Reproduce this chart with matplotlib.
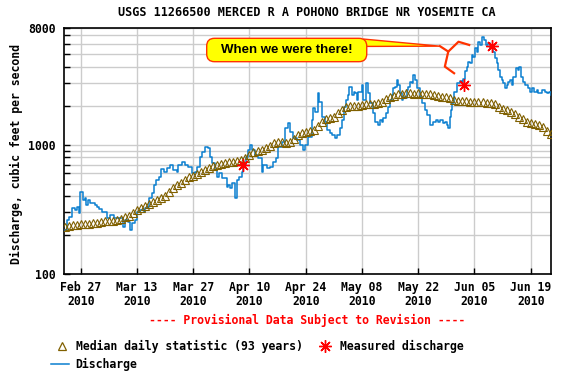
import numpy as np
import matplotlib
matplotlib.use("Agg")
import matplotlib.pyplot as plt
from matplotlib.patches import FancyBboxPatch, Polygon
from matplotlib.lines import Line2D

# ---------------- data ----------------
title = "USGS 11266500 MERCED R A POHONO BRIDGE NR YOSEMITE CA"
ylabel = "Discharge, cubic feet per second"

# x positions are days relative to Feb 27 2010
tick_days = [0, 14, 28, 42, 56, 70, 84, 98, 112]
tick_labels = ["Feb 27\n2010", "Mar 13\n2010", "Mar 27\n2010", "Apr 10\n2010",
               "Apr 24\n2010", "May 08\n2010", "May 22\n2010", "Jun 05\n2010",
               "Jun 19\n2010"]

q_day = [-3.98, -3.53, -2.99, -2.17, -1.34, -0.92, -0.50, -0.10, 0.45, 1.00,
         1.32, 1.82, 2.39, 3.24, 3.63, 4.06, 4.48, 5.30, 6.12, 6.55,
         7.37, 8.21, 9.03, 9.86, 10.45, 11.10, 11.77, 12.34, 12.77, 13.59,
         14.00, 14.83, 15.68, 16.08, 16.75, 17.07, 17.75, 18.17, 18.82, 19.41,
         20.06, 20.66, 21.40, 22.22, 23.05, 23.89, 24.29, 25.14, 25.96, 26.78,
         27.63, 28.45, 28.87, 29.69, 30.11, 30.94, 31.76, 32.18, 32.60, 33.43,
         33.85, 34.50, 35.09, 35.91, 36.34, 36.73, 37.16, 37.58, 38.40, 38.83,
         39.47, 40.07, 40.47, 41.14, 41.71, 42.14, 42.56, 43.38, 44.20, 45.05,
         45.45, 46.29, 47.11, 47.93, 48.53, 49.18, 50.03, 50.85, 51.67, 52.09,
         52.91, 53.76, 54.58, 55.40, 55.82, 56.65, 57.49, 57.89, 58.31, 58.98,
         59.31, 59.98, 60.80, 61.22, 62.05, 62.47, 63.29, 63.71, 64.53, 65.11,
         65.60, 65.95, 66.45, 66.85, 67.45, 68.10, 68.27, 68.69, 69.09, 69.94,
         70.34, 71.00, 71.58, 72.00, 72.82, 73.25, 74.07, 74.49, 74.91, 75.31,
         75.98, 76.56, 76.98, 77.40, 77.80, 78.22, 78.65, 79.04, 79.47, 79.89,
         80.29, 80.71, 81.13, 81.53, 81.96, 82.38, 82.78, 83.20, 83.62, 84.45,
         84.87, 85.69, 86.11, 86.93, 87.36, 87.75, 88.43, 89.00, 89.42, 90.09,
         90.66, 91.09, 91.49, 91.91, 92.16, 92.48, 92.98, 93.58, 93.98, 94.40,
         94.82, 95.22, 95.64, 96.06, 96.46, 96.89, 97.31, 97.71, 98.13, 98.56,
         98.95, 99.38, 99.95, 100.45, 100.80, 101.30, 101.87, 102.69, 103.11, 103.53,
         103.93, 104.36, 104.78, 105.18, 105.60, 106.03, 106.42, 106.85, 107.27, 107.67,
         108.26, 108.76, 109.09, 109.58, 110.16, 110.58, 111.40, 111.82, 112.25, 112.89,
         113.49, 113.89, 114.73, 115.56, 115.98, 116.55, 117.05]
q_cfs = [219, 262, 276, 324, 313, 330, 296, 433, 374, 389,
         342, 374, 355, 355, 342, 330, 320, 302, 302, 271,
         286, 271, 271, 271, 232, 262, 254, 219, 248, 262,
         302, 313, 302, 324, 332, 389, 425, 488, 534, 566,
         646, 618, 665, 697, 638, 618, 697, 740, 697, 675,
         600, 618, 675, 809, 884, 966, 938, 809, 718, 638,
         566, 600, 550, 550, 474, 488, 460, 502, 386, 534,
         566, 618, 697, 809, 911, 995, 911, 833, 785, 618,
         697, 657, 675, 740, 785, 966, 1055, 1340, 1464, 1260,
         1120, 1088, 995, 911, 995, 1154, 1554, 1912, 1800, 2500,
         2150, 1650, 1510, 1300, 1225, 1189, 1120, 1189, 1340, 1554,
         1970, 2219, 2426, 2815, 2426, 2575, 2500, 2219, 2575, 2898,
         2219, 2990, 2500, 2090, 1750, 1510, 1421, 1554, 1510, 1600,
         1750, 1970, 2219, 2426, 2730, 2815, 3168, 2898, 2500, 2219,
         2350, 2290, 2652, 2815, 3070, 2990, 3463, 3168, 2730, 2350,
         2090, 1857, 1699, 1421, 1421, 1510, 1554, 1510, 1554, 1465,
         1510, 1421, 1340, 1650, 1857, 2090, 2575, 2990, 2990, 3100,
         3000, 3250, 3700, 4000, 4400, 4280, 4946, 4800, 5570, 5240,
         6270, 5910, 6850, 6461, 5910, 6090, 5570, 5240, 4660, 4260,
         3786, 3360, 3168, 2990, 2730, 2898, 3070, 3168, 2898, 3360,
         3900, 3786, 4000, 3360, 3070, 2898, 2730, 2575, 2730, 2575,
         2652, 2500, 2652, 2575, 2500, 2575, 2426]

median_day = list(range(-4, 118))
median_cfs = [232, 235, 238, 240, 242,
              245, 245, 248, 250,
              252, 255, 255, 258,
              262, 268, 275, 283,
              295, 310, 322, 335,
              350, 362, 372, 385,
              400, 430, 460, 490,
              510, 535, 560, 575,
              590, 610, 635, 655,
              680, 700, 715, 725,
              730, 740, 745, 760,
              790, 840, 880, 900,
              915, 940, 980, 1030,
              1050, 1050, 1040, 1045,
              1100, 1180, 1240, 1260,
              1270, 1300, 1400, 1500,
              1580, 1600, 1650, 1750,
              1850, 1950, 2000, 2000,
              2000, 2030, 2050, 2070,
              2080, 2100, 2150, 2250,
              2350, 2400, 2450, 2480,
              2500, 2500, 2480, 2500,
              2470, 2450, 2450, 2430,
              2400, 2350, 2330, 2300,
              2200, 2180, 2170, 2160,
              2150, 2140, 2130, 2130,
              2120, 2100, 2050, 1950,
              1900, 1850, 1780, 1720,
              1650, 1580, 1500, 1470,
              1450, 1430, 1380, 1280,
              1220]

measured_day = [40.3, 95.5, 102.3]
measured_cfs = [700, 2900, 5800]

y_major = [100, 1000, 8000]
y_minor = [200, 300, 400, 500, 600, 700, 800, 900,
           2000, 3000, 4000, 5000, 6000, 7000]

# ---------------- style ----------------
plt.rcParams['font.family'] = ['DejaVu Sans Mono']
plt.rcParams['font.weight'] = 'bold'
FS = 8.3
BLUE = '#0a7fd0'
BROWN = '#806000'
GRID = '#cccccc'

fig = plt.figure(figsize=(5.7, 3.76), dpi=100)
ax = fig.add_axes([0.1123, 0.2713, 0.8544, 0.6543])

ax.set_yscale('log')
ax.set_ylim(100, 8000)
ax.set_xlim(-4.156, 117.05)

ax.set_yticks(y_major)
ax.set_yticklabels([str(v) for v in y_major], fontsize=FS, fontweight='bold')
ax.set_yticks(y_minor, minor=True)
ax.set_yticklabels([], minor=True)
ax.set_xticks(tick_days)
ax.set_xticklabels(tick_labels, fontsize=FS, fontweight='bold', linespacing=1.15)

ax.grid(True, which='both', axis='y', color=GRID, lw=1.0, zorder=0)
ax.grid(True, which='major', axis='x', color=GRID, lw=1.0, zorder=0)
ax.set_axisbelow(True)

ax.tick_params(axis='y', which='both', direction='in', length=4, width=1, pad=6)
ax.tick_params(axis='x', which='both', direction='in', length=4, width=1, pad=5)
for s in ax.spines.values():
    s.set_linewidth(1.2)
    s.set_color('black')

ax.plot(q_day, q_cfs, color=BLUE, lw=1.1, drawstyle='steps-post', zorder=3)
ax.plot(median_day, median_cfs, linestyle='none', marker='^', markersize=5.5,
        markerfacecolor='none', markeredgecolor=BROWN, markeredgewidth=0.8, zorder=4)
ax.plot(measured_day, measured_cfs, linestyle='none', marker=(8, 2, 0),
        markersize=9, markeredgecolor='red', markeredgewidth=1.0, zorder=5)
ax.plot(measured_day, measured_cfs, linestyle='none', marker='o',
        markersize=3, color='red', zorder=5)

# title and labels
fig.text(0.539, 0.966, title, ha='center', va='center', fontsize=8.5, fontweight='bold')
fig.text(0.029, 0.59, ylabel, ha='center', va='center', rotation=90,
         fontsize=FS, fontweight='bold')
fig.text(0.539, 0.147, "---- Provisional Data Subject to Revision ----",
         ha='center', va='center', fontsize=FS, fontweight='bold', color='red')

# legend (drawn manually to match layout)
fig.add_artist(Line2D([0.1084], [0.0787], marker='^', markersize=6,
                      markerfacecolor='none', markeredgecolor=BROWN,
                      markeredgewidth=0.9, linestyle='none',
                      transform=fig.transFigure))
fig.text(0.1326, 0.0787, "Median daily statistic (93 years)", ha='left',
         va='center', fontsize=FS, fontweight='bold')
fig.add_artist(Line2D([0.5696], [0.0787], marker=(8, 2, 0), markersize=9,
                      markeredgecolor='red', markeredgewidth=1.0,
                      linestyle='none', transform=fig.transFigure))
fig.text(0.5965, 0.0787, "Measured discharge", ha='left', va='center',
         fontsize=FS, fontweight='bold')
fig.add_artist(Line2D([0.0893, 0.1212], [0.0306, 0.0306], color=BLUE, lw=1.1,
                      transform=fig.transFigure))
fig.text(0.1326, 0.0306, "Discharge", ha='left', va='center', fontsize=FS,
         fontweight='bold')

# callout
CALL = '#ff3300'
tail = Polygon([[0.615, 0.955], [0.772, 0.926], [0.615, 0.925]], closed=True,
               facecolor='yellow', edgecolor=CALL, lw=1.0,
               transform=ax.transAxes, zorder=6)
ax.add_patch(tail)
box = FancyBboxPatch((0.293, 0.863), 0.3286, 0.095,
                     boxstyle="round,pad=0,rounding_size=0.016",
                     mutation_aspect=487 / 246,
                     facecolor='yellow', edgecolor=CALL, lw=1.0,
                     transform=ax.transAxes, zorder=7)
ax.add_patch(box)
ax.text(0.457, 0.911, "When we were there!", transform=ax.transAxes,
        ha='center', va='center', fontsize=9.5, fontweight='bold',
        family='Liberation Sans', zorder=8)
ax.plot([0.772, 0.789, 0.810, 0.832], [0.926, 0.904, 0.944, 0.931],
        color=CALL, lw=1.6, transform=ax.transAxes, zorder=6, clip_on=False)
ax.plot([0.789, 0.782, 0.801], [0.904, 0.843, 0.816],
        color=CALL, lw=1.6, transform=ax.transAxes, zorder=6, clip_on=False)

fig.savefig("out.png", dpi=100)
